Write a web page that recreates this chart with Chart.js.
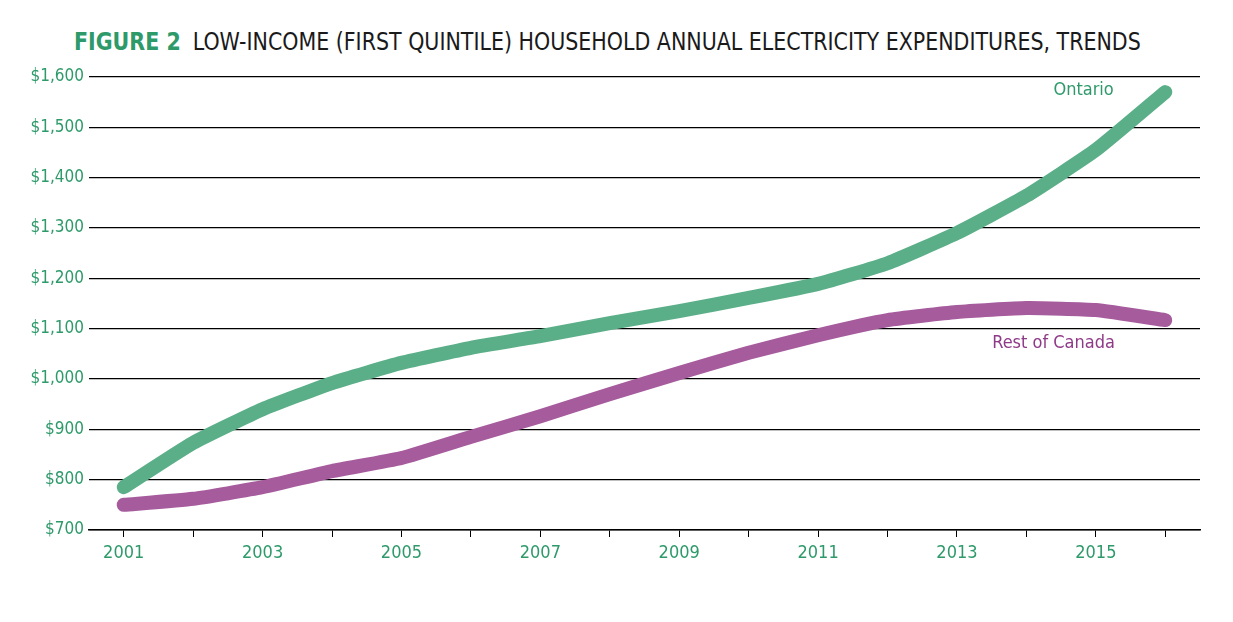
<!DOCTYPE html>
<html>
<head>
<meta charset="utf-8">
<script src="https://cdn.jsdelivr.net/npm/chart.js@4"></script>
<style>
    body { margin: 0; background: #fff; }
    .wrap { position: relative; width: 1233px; height: 622px; }
    .title {
        position: absolute; left: 74px; top: 27px;
        font-family: 'DejaVu Sans Condensed', 'Liberation Sans Narrow', sans-serif;
        font-size: 25px; color: #1a1a1a; white-space: nowrap;
        transform: scaleX(0.915); transform-origin: left top;
    }
    .title b { color: #2e9a6a; margin-right: 6px; }
    canvas { position: absolute; left: 0; top: 0; }
</style>
</head>
<body>
<div class="wrap">
    <div class="title"><b>FIGURE 2</b> LOW-INCOME (FIRST QUINTILE) HOUSEHOLD ANNUAL ELECTRICITY EXPENDITURES, TRENDS</div>
    <canvas id="chart" width="1233" height="622"></canvas>
</div>
<script>
// Data
const years = ['2001', '2002', '2003', '2004', '2005', '2006', '2007', '2008',
    '2009', '2010', '2011', '2012', '2013', '2014', '2015', '2016'];
const ontario = [785, 873, 940, 992, 1032, 1062, 1085, 1111, 1135, 1161, 1189, 1230, 1290, 1364, 1455, 1570];
const restOfCanada = [750, 762, 785, 817, 843, 885, 926, 970, 1012, 1052, 1087, 1117, 1133, 1141, 1137, 1117];
const yTicks = [700, 800, 900, 1000, 1100, 1200, 1300, 1400, 1500, 1600];

const green = '#5baf88';
const greenText = '#2e9a6a';
const purple = '#a65b9d';
const purpleText = '#8e3a87';
const font = "'DejaVu Sans Condensed', 'Liberation Sans Narrow', sans-serif";

// Series name labels next to the lines
const seriesLabels = {
    id: 'seriesLabels',
    afterDatasetsDraw(chart) {
        const { ctx, scales: { x, y } } = chart;
        ctx.save();
        ctx.font = '18px ' + font;
        ctx.textAlign = 'center';
        ctx.textBaseline = 'middle';
        ctx.fillStyle = greenText;
        ctx.fillText('Ontario', (x.getPixelForValue(14) + x.getPixelForValue(15)) / 2 - 47, y.getPixelForValue(1574));
        ctx.fillStyle = purpleText;
        ctx.fillText('Rest of Canada', (x.getPixelForValue(14) + x.getPixelForValue(15)) / 2 - 77, y.getPixelForValue(1070));
        ctx.restore();
    }
};

const lineStyle = {
    borderWidth: 14,
    borderCapStyle: 'round',
    borderJoinStyle: 'round',
    pointRadius: 0,
    tension: 0.15,
    fill: false
};

new Chart(document.getElementById('chart'), {
    type: 'line',
    data: {
        labels: years,
        datasets: [
            { label: 'Ontario', data: ontario, borderColor: green, ...lineStyle },
            { label: 'Rest of Canada', data: restOfCanada, borderColor: purple, ...lineStyle }
        ]
    },
    options: {
        responsive: false,
        animation: false,
        layout: { padding: { top: 77, right: 33, left: 0, bottom: 0 } },
        plugins: {
            legend: { display: false },
            tooltip: { enabled: false }
        },
        scales: {
            x: {
                offset: true,
                border: { display: true, color: '#000', width: 1.5 },
                grid: { drawOnChartArea: false, drawTicks: true, tickLength: 7, color: '#000', offset: false },
                ticks: {
                    autoSkip: false,
                    maxRotation: 0,
                    color: greenText,
                    font: { family: font, size: 18 },
                    padding: 6,
                    callback: (v, i) => (i % 2 === 0 ? years[i] : '')
                },
                afterFit: (scale) => { scale.height = 92; }
            },
            y: {
                min: 700,
                max: 1600,
                afterBuildTicks: (scale) => { scale.ticks = yTicks.map(v => ({ value: v })); },
                border: { display: false },
                grid: { color: '#000', lineWidth: 1.2, drawTicks: false },
                ticks: {
                    color: greenText,
                    font: { family: font, size: 17 },
                    padding: 5,
                    callback: (v) => '$' + v.toLocaleString('en-US')
                },
                afterFit: (scale) => { scale.width = 89; }
            }
        }
    },
    plugins: [seriesLabels]
});
</script>
</body>
</html>
